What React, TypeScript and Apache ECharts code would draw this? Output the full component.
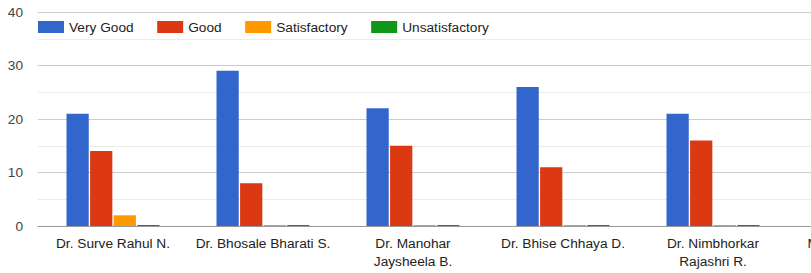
import React, { useEffect, useRef } from "react";
import * as echarts from "echarts";

const categories = [
  "Dr. Surve Rahul N.",
  "Dr. Bhosale Bharati S.",
  "Dr. Manohar\nJaysheela B.",
  "Dr. Bhise Chhaya D.",
  "Dr. Nimbhorkar\nRajashri R.",
  "Mrs. Patil Swati S.",
];
const veryGood = [21, 29, 22, 26, 21, null];
const good = [14, 8, 15, 11, 16, null];
const satisfactory = [2, 0, 0, 0, 0, null];
const unsatisfactory = [0, 0, 0, 0, 0, null];
const seriesNames = ["Very Good", "Good", "Satisfactory", "Unsatisfactory"];
const colors = ["#3366cc", "#dc3912", "#ff9900", "#109618"];

const FONT = "Arial, 'Liberation Sans', sans-serif";
const FS = 13.7;

export default function App() {
  const ref = useRef<HTMLDivElement>(null);
  useEffect(() => {
    if (!ref.current) return;
    const chart = echarts.init(ref.current, undefined, { renderer: "svg" });
    const data = [veryGood, good, satisfactory, unsatisfactory];
    chart.setOption({
      animation: false,
      color: colors,
      textStyle: { fontFamily: FONT },
      legend: {
        left: 38,
        top: 20,
        padding: 0,
        itemWidth: 26,
        itemHeight: 12,
        itemGap: 23.5,
        icon: "rect",
        textStyle: { fontSize: FS, color: "#222", fontFamily: FONT },
        data: seriesNames,
      },
      grid: { left: 38, right: 12, top: 12, bottom: 47, containLabel: false },
      xAxis: {
        type: "category",
        data: categories,
        axisTick: { show: false },
        axisLine: { show: true, lineStyle: { color: "#999", width: 1 } },
        axisLabel: {
          fontSize: FS,
          color: "#222",
          fontFamily: FONT,
          margin: 8,
          lineHeight: 18,
          interval: 0,
        },
      },
      yAxis: {
        type: "value",
        min: 0,
        max: 40,
        interval: 10,
        axisLine: { show: false },
        axisTick: { show: false },
        axisLabel: { fontSize: FS, color: "#444", fontFamily: FONT, margin: 15 },
        splitLine: { show: true, lineStyle: { color: "#ccc", width: 1 } },
        minorTick: { show: false, splitNumber: 2 },
        minorSplitLine: { show: true, lineStyle: { color: "#ebebeb", width: 1 } },
      },
      series: data.map((d, i) => ({
        name: seriesNames[i],
        type: "bar",
        data: d,
        barGap: "6%",
        barCategoryGap: "38%",
        barMinHeight: 1,
        itemStyle: { color: colors[i] },
      })),
    });
    return () => chart.dispose();
  }, []);
  return (
    <div
      style={{
        position: "fixed",
        left: 0,
        top: 0,
        width: 811,
        height: 273,
        overflow: "hidden",
        background: "#fff",
      }}
    >
      <div ref={ref} style={{ width: 950, height: 273 }} />
    </div>
  );
}
